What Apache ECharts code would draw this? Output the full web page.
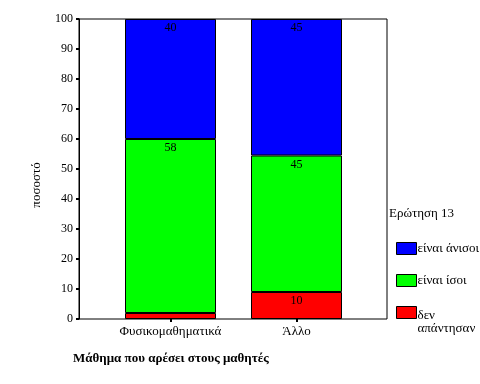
<!DOCTYPE html>
<html>
<head>
<meta charset="utf-8">
<script src="https://cdn.jsdelivr.net/npm/echarts@6/dist/echarts.min.js"></script>
<style>html,body{margin:0;padding:0;background:#fff}#c{width:480px;height:384px}</style>
</head>
<body>
<div id="c"></div>
<script>
var categories = ['Φυσικομαθηματικά', 'Άλλο'];
var seriesNames = ['δεν απάντησαν', 'είναι ίσοι', 'είναι άνισοι'];
var redValues = [2, 9];
var greenValues = [58, 45.5];
var blueValues = [40, 45.5];
var redLabels = ['', '10'];
var greenLabels = ['58', '45'];
var blueLabels = ['40', '45'];
var yTicks = [0, 10, 20, 30, 40, 50, 60, 70, 80, 90, 100];
var yTitle = 'ποσοστό';
var xTitle = 'Μάθημα που αρέσει στους μαθητές';
var legendTitle = 'Ερώτηση 13';

var FONT = '"Liberation Serif", "Times New Roman", serif';
var chart = echarts.init(document.getElementById('c'), null, {renderer: 'canvas'});

function mk(name, values, labels, color) {
  return {
    name: name,
    type: 'bar',
    stack: 'total',
    xAxisIndex: 0,
    yAxisIndex: 0,
    barWidth: 91,
    data: values,
    itemStyle: {color: color, borderColor: '#000', borderWidth: 1},
    label: {
      show: true,
      position: 'insideTop',
      distance: 3,
      color: '#000',
      fontFamily: FONT,
      fontSize: 12,
      formatter: function (p) { return labels[p.dataIndex]; }
    },
    emphasis: {disabled: true},
    animation: false
  };
}

chart.setOption({
  animation: false,
  backgroundColor: '#fff',
  textStyle: {fontFamily: FONT, color: '#000'},
  title: [
    {text: xTitle, left: 73, top: 352, padding: 0, textStyle: {fontFamily: FONT, fontSize: 13, fontWeight: 'bold', color: '#000'}},
    {text: legendTitle, left: 389, top: 207, padding: 0, textStyle: {fontFamily: FONT, fontSize: 13, fontWeight: 'normal', color: '#000'}}
  ],
  grid: [
    {left: 107.5, right: 120.5, top: 19, bottom: 65, show: false},
    {left: 79, right: 93, top: 19, bottom: 65, show: true, borderColor: '#000', borderWidth: 1, backgroundColor: '#fff'}
  ],
  legend: [
    {
      orient: 'vertical',
      left: 396,
      top: 242,
      padding: 0,
      itemWidth: 20,
      itemHeight: 12,
      itemGap: 19,
      icon: 'rect',
      selectedMode: false,
      itemStyle: {borderColor: '#000', borderWidth: 1},
      textStyle: {fontFamily: FONT, fontSize: 13, color: '#000', padding: [0, 0, 0, -4]},
      data: [{name: seriesNames[2]}, {name: seriesNames[1]}]
    },
    {
      orient: 'vertical',
      left: 396,
      top: 293,
      padding: 0,
      itemWidth: 20,
      itemHeight: 12,
      icon: 'rect',
      selectedMode: false,
      itemStyle: {borderColor: '#000', borderWidth: 1},
      textStyle: {
        fontFamily: FONT, fontSize: 13, color: '#000', padding: [0, 0, 0, -4],
        rich: {
          s: {fontFamily: FONT, fontSize: 13, lineHeight: 20},
          b: {fontFamily: FONT, fontSize: 13, lineHeight: 13, color: '#000'}
        }
      },
      formatter: function (n) {
        var parts = n.split(' ');
        return '{s| }\n{b|' + parts[0] + '}\n{b|' + parts[1] + '}';
      },
      data: [{name: seriesNames[0]}]
    }
  ],
  xAxis: [
    {
      type: 'category',
      gridIndex: 0,
      data: categories,
      axisLine: {show: false},
      axisTick: {show: true, alignWithLabel: true, length: 3, lineStyle: {color: '#000', width: 2}},
      axisLabel: {interval: 0, margin: 6, fontFamily: FONT, fontSize: 13, color: '#000'}
    },
    {type: 'value', gridIndex: 1, show: false, min: 0, max: 1}
  ],
  yAxis: [
    {type: 'value', gridIndex: 0, min: 0, max: 100, interval: 10, show: false},
    {
      type: 'value',
      gridIndex: 1,
      min: 0,
      max: 100,
      interval: 10,
      name: yTitle,
      nameLocation: 'middle',
      nameRotate: 90,
      nameGap: 36,
      nameTextStyle: {fontFamily: FONT, fontSize: 13, color: '#000', padding: [0, 32, 0, 0]},
      splitLine: {show: false},
      axisLine: {show: true, onZero: false, lineStyle: {color: '#000', width: 1}},
      axisTick: {show: true, length: 3, lineStyle: {color: '#000', width: 2}},
      axisLabel: {fontFamily: FONT, fontSize: 12, color: '#000', margin: 6,
        formatter: function (v) { return yTicks.indexOf(v) >= 0 ? String(v) : ''; }}
    }
  ],
  series: [
    mk(seriesNames[0], redValues, redLabels, '#ff0000'),
    mk(seriesNames[1], greenValues, greenLabels, '#00ff00'),
    mk(seriesNames[2], blueValues, blueLabels, '#0000ff')
  ]
});
</script>
</body>
</html>
